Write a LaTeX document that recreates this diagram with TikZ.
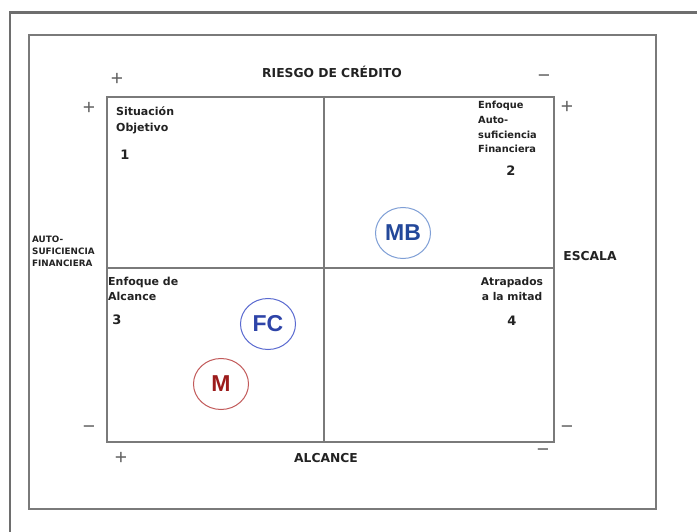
\documentclass[tikz,border=0pt]{standalone}
\usepackage{fontspec}
\setmainfont{DejaVu Sans}
\newfontfamily\arialf{Liberation Sans}
\usetikzlibrary{shapes.geometric}
\definecolor{framegray}{HTML}{7A7A7A}
\definecolor{txtdark}{HTML}{222222}
\definecolor{mbline}{HTML}{7F9FD6}
\definecolor{mbtext}{HTML}{23489A}
\definecolor{fcline}{HTML}{5A6AD0}
\definecolor{fctext}{HTML}{2E44A8}
\definecolor{mline}{HTML}{C25A5A}
\definecolor{mtext}{HTML}{9C1C1C}
\tikzset{
  frameline/.style={draw=framegray, line width=2pt},
  outerline/.style={draw=framegray!90!black, line width=2.6pt},
  axislabel/.style={inner sep=0pt, text=txtdark, font=\fontsize{12.3}{14}\selectfont\bfseries},
  quadlabel/.style={inner sep=0pt, text=txtdark, anchor=north west, align=left, font=\fontsize{11}{15.5}\selectfont\bfseries},
  quadlabelr/.style={inner sep=0pt, text=txtdark, anchor=north west, align=left, font=\fontsize{9.8}{14.7}\selectfont\bfseries},
  numlabel/.style={inner sep=0pt, text=txtdark, font=\fontsize{13}{14}\selectfont\bfseries},
  signlabel/.style={inner sep=0pt, text=framegray!80!black, font=\arialf\fontsize{21}{21}\selectfont},
  bubble/.style={ellipse, line width=1pt, minimum width=55pt, minimum height=51pt, inner sep=0pt, font=\arialf\fontsize{23}{23}\selectfont\bfseries}
}
\begin{document}
\begin{tikzpicture}[x=1pt,y=-1pt]
\useasboundingbox[fill=white] (0,0) rectangle (697,532);
% outer frame (runs off the right and bottom edges)
\coordinate (oBL) at (10,532);
\coordinate (oTL) at (10,12.7);
\coordinate (oTR) at (697,12.7);
\draw[outerline] (oBL) -- (oTL) -- (oTR);
% inner frame
\node[frameline, rectangle, inner sep=0pt, minimum width=627pt, minimum height=474pt, anchor=north west] (inner) at (28,34) {};
% quadrant box
\node[frameline, rectangle, inner sep=0pt, minimum width=447pt, minimum height=345pt, anchor=north west] (quad) at (106,96) {};
\coordinate (midT) at (324,96);
\coordinate (midB) at (324,441);
\coordinate (midL) at (106,268);
\coordinate (midR) at (553,268);
\draw[frameline] (midT) -- (midB);
\draw[frameline] (midL) -- (midR);
% axis labels
\node[axislabel] (riesgo) at (332,72) {RIESGO DE CRÉDITO};
\node[axislabel] (alcance) at (326,458) {ALCANCE};
\node[axislabel] (escala) at (590,256) {ESCALA};
\node[inner sep=0pt, text=txtdark, anchor=north west, align=left, font=\fontsize{8.8}{12}\selectfont\bfseries] (auto) at (32,236) {AUTO-\\SUFICIENCIA\\FINANCIERA};
% signs
\node[signlabel] (sTL) at (117,79) {+};
\node[signlabel] (sTR) at (544,79) {−};
\node[signlabel] (sLT) at (89,108) {+};
\node[signlabel] (sRT) at (567,107) {+};
\node[signlabel] (sLB) at (89,430) {−};
\node[signlabel] (sRB) at (567,430) {−};
\node[signlabel] (sBL) at (121,458) {+};
\node[signlabel] (sBR) at (543,453) {−};
% quadrant labels
\node[quadlabel] (q1) at (116,107) {Situación\\Objetivo};
\node[numlabel] (n1) at (125,155) {1};
\node[quadlabelr] (q2) at (478,101) {Enfoque\\Auto-\\suficiencia\\Financiera};
\node[numlabel] (n2) at (511,171) {2};
\node[quadlabel, font=\fontsize{11}{15}\selectfont\bfseries] (q3) at (108,277) {Enfoque de\\Alcance};
\node[numlabel] (n3) at (117,320) {3};
\node[inner sep=0pt, text=txtdark, anchor=north, align=center, font=\fontsize{10.7}{15}\selectfont\bfseries] (q4) at (512,277) {Atrapados\\a la mitad};
\node[numlabel] (n4) at (512,321) {4};
% bubbles
\node[bubble, draw=mbline, text=mbtext] (MB) at (403,233) {MB};
\node[bubble, draw=fcline, text=fctext] (FC) at (268,324) {FC};
\node[bubble, draw=mline, text=mtext] (M) at (221,384) {M};
\end{tikzpicture}
\end{document}
